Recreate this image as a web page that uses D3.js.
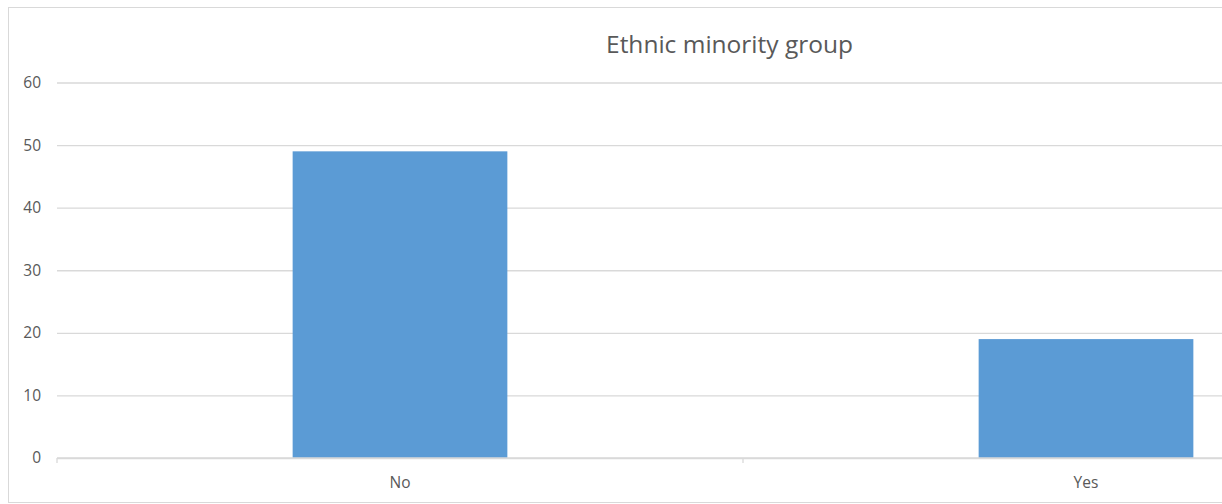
<!DOCTYPE html>
<html>
<head>
<meta charset="utf-8">
<script src="https://cdn.jsdelivr.net/npm/d3@7"></script>
<style>
  html, body { margin: 0; padding: 0; background: #fff; }
  svg { display: block; }
</style>
</head>
<body>
<svg id="chart" width="1222" height="504"></svg>
<script>
const title = "Ethnic minority group";
const categories = ["No", "Yes"];
const values = [49, 19];
const yTicks = [0, 10, 20, 30, 40, 50, 60];

const svg = d3.select("#chart");
const font = "'Open Sans', 'Liberation Sans', sans-serif";

// chart area border (right side cropped out of the picture)
svg.append("rect")
  .attr("x", 8.5).attr("y", 7.5)
  .attr("width", 1400).attr("height", 495)
  .attr("fill", "#fff").attr("stroke", "#d9d9d9").attr("stroke-width", 1);

const plotLeft = 57, plotRight = 1429, y0 = 458, yTop = 82.5;

const x = d3.scaleBand()
  .domain(categories)
  .range([plotLeft, plotRight])
  .paddingInner(0.687)
  .paddingOuter(0.687 / 2);

const y = d3.scaleLinear().domain([0, 60]).range([y0, yTop]);

// gridlines
const grid = svg.append("g")
  .attr("transform", `translate(${plotLeft},0)`)
  .call(d3.axisLeft(y).tickValues(yTicks).tickSize(-(plotRight - plotLeft)).tickFormat(""));
grid.select(".domain").remove();
grid.selectAll(".tick line").attr("stroke", "#d9d9d9").attr("stroke-width", 1.3);

// y tick labels
const yAxis = svg.append("g")
  .attr("transform", `translate(${plotLeft},0)`)
  .call(d3.axisLeft(y).tickValues(yTicks).tickSize(0).tickPadding(16));
yAxis.select(".domain").remove();
yAxis.selectAll("text")
  .attr("fill", "#595959")
  .style("font-family", font)
  .style("font-size", "15.5px");

// bars
svg.append("g").selectAll("rect")
  .data(categories)
  .join("rect")
  .attr("x", d => x(d))
  .attr("width", x.bandwidth())
  .attr("y", (d, i) => y(values[i]))
  .attr("height", (d, i) => y(0) - y(values[i]))
  .attr("fill", "#5b9bd5");

// x axis line + boundary ticks
const step = x.step();
const boundaries = d3.range(categories.length + 1).map(i => plotLeft + i * step);
const xAxisG = svg.append("g");
xAxisG.append("line")
  .attr("x1", plotLeft).attr("x2", plotRight)
  .attr("y1", y0).attr("y2", y0)
  .attr("stroke", "#d9d9d9").attr("stroke-width", 1.3);
xAxisG.selectAll("line.tk")
  .data(boundaries)
  .join("line")
  .attr("class", "tk")
  .attr("x1", d => d).attr("x2", d => d)
  .attr("y1", y0).attr("y2", y0 + 5)
  .attr("stroke", "#d9d9d9").attr("stroke-width", 1.3);

// category labels
svg.append("g").selectAll("text")
  .data(categories)
  .join("text")
  .attr("x", d => x(d) + x.bandwidth() / 2)
  .attr("y", 488)
  .attr("text-anchor", "middle")
  .attr("fill", "#595959")
  .style("font-family", font)
  .style("font-size", "15.5px")
  .text(d => d);

// title
svg.append("text")
  .attr("x", 729.5)
  .attr("y", 53)
  .attr("text-anchor", "middle")
  .attr("fill", "#595959")
  .style("font-family", font)
  .style("font-size", "24.5px")
  .text(title);
</script>
</body>
</html>
